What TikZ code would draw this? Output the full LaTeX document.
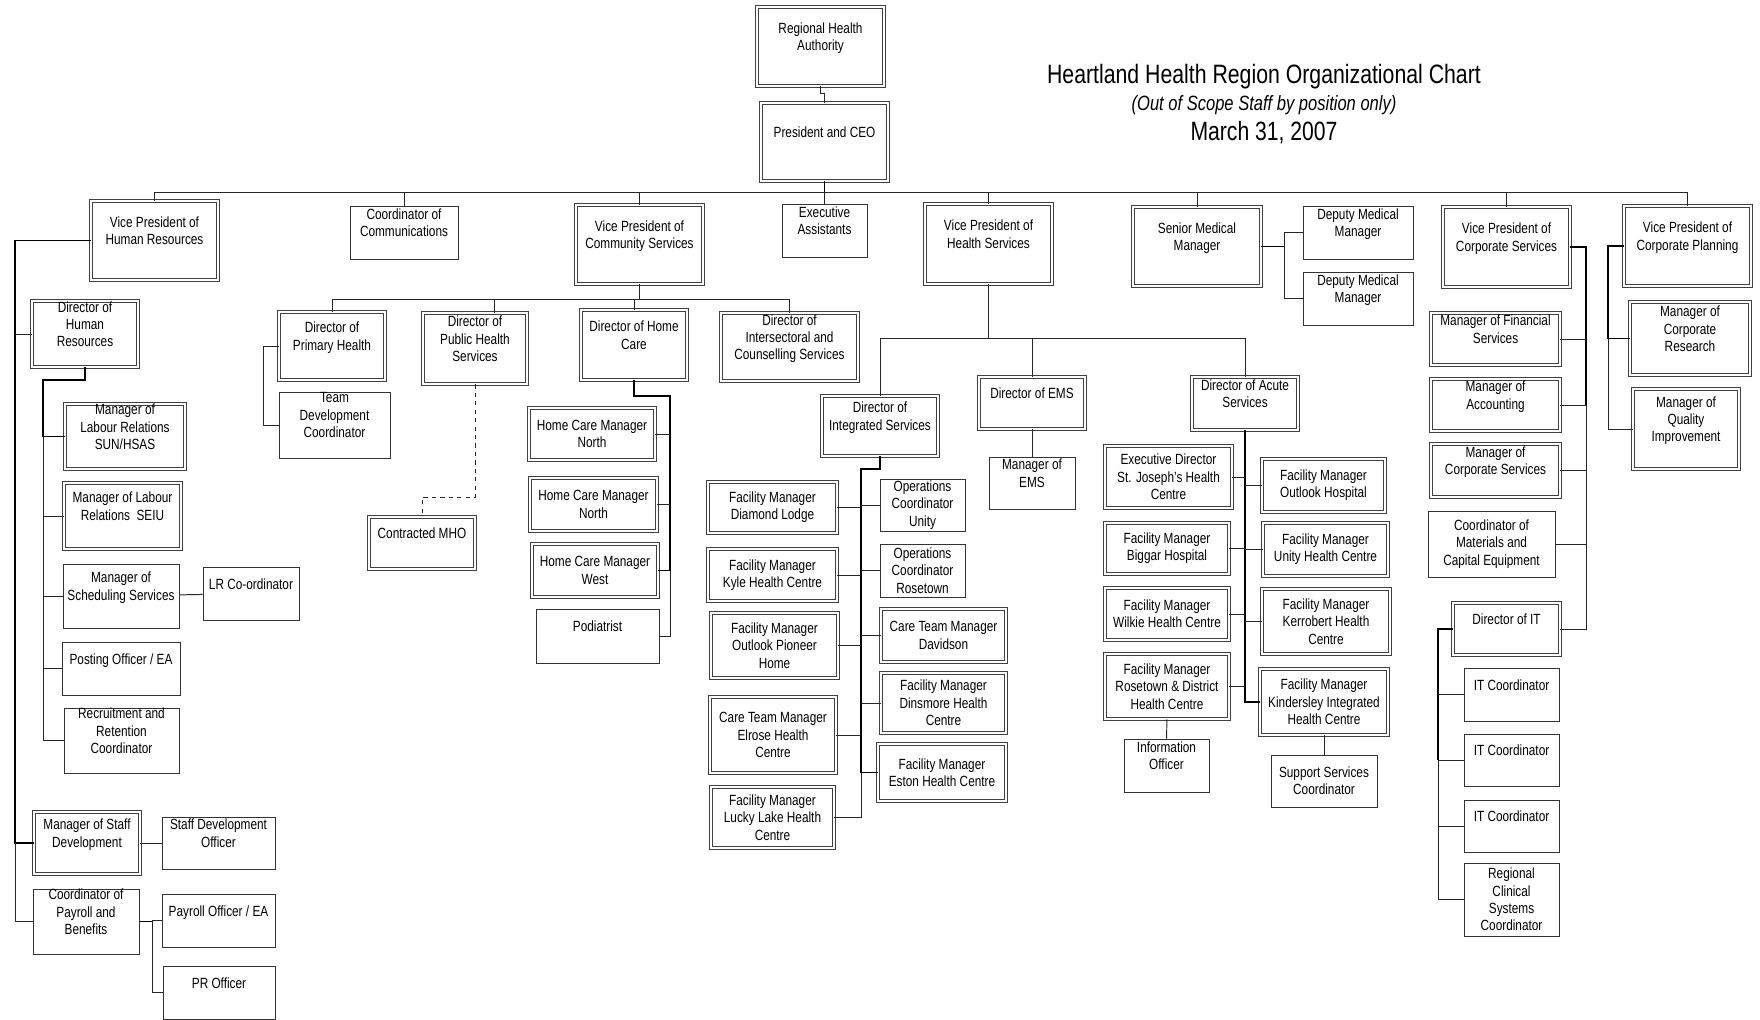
\documentclass[tikz,border=0pt]{standalone}
\usepackage{fontspec}
\setmainfont{Liberation Sans}[FakeStretch=0.8]

\tikzstyle{obox}=[draw=black!80, line width=0.6pt, rectangle, align=center, inner sep=0pt, font=\fontsize{10.5}{12.3}\selectfont]
\tikzstyle{dbox}=[obox, draw=black!75, line width=0.55pt, double=white, double distance=1.1pt]
\tikzstyle{tlift}=[text depth=14pt]
\tikzstyle{ed}=[draw=black!85, line width=0.7pt]
\tikzstyle{edb}=[draw=black, line width=1.4pt]
\tikzset{sz/.style 2 args={minimum width=#1cm, minimum height=#2cm}}

\begin{document}
\begin{tikzpicture}[x=0.025cm, y=-0.025cm]
  \fill[white] (0,0) rectangle (1760,1019);
  \useasboundingbox (0,0) rectangle (1760,1019);

  % title
  \node[font=\fontsize{18.9}{21}\selectfont] (title) at (1264,77) {Heartland Health Region Organizational Chart};
  \node[font=\itshape\fontsize{14.7}{16}\selectfont] (subtitle) at (1264,105) {(Out of Scope Staff by position only)};
  \node[font=\fontsize{18.8}{21}\selectfont] (date) at (1264,133) {March 31, 2007};

  % top level
  \node[dbox,tlift,sz={3.175}{1.975}] (rha) at (820.5,46.5) {Regional Health\\Authority};
  \node[dbox,tlift,sz={3.175}{1.95}] (ceo) at (824.5,142) {President and CEO};
  \node[dbox,tlift,sz={3.175}{1.975}] (vphr) at (154.5,240.5) {Vice President of\\Human Resources};
  \node[obox,tlift,sz={2.7}{1.325}] (comm) at (404,232.5) {Coordinator of\\Communications};
  \node[dbox,tlift,sz={3.175}{1.975}] (vpcom) at (639.5,244.5) {Vice President of\\Community Services};
  \node[obox,tlift,sz={2.125}{1.325}] (exa) at (824.5,230.5) {Executive\\Assistants};
  \node[dbox,tlift,sz={3.175}{2}] (vphs) at (988.5,244) {Vice President of\\Health Services};
  \node[dbox,tlift,sz={3.2}{1.975}] (smm) at (1197,246.5) {Senior Medical\\Manager};
  \node[obox,tlift,sz={2.75}{1.325}] (dmma) at (1358,232.5) {Deputy Medical\\Manager};
  \node[obox,tlift,sz={2.75}{1.325}] (dmmb) at (1358,298.5) {Deputy Medical\\Manager};
  \node[dbox,tlift,sz={3.175}{2}] (vpcs) at (1506.5,247) {Vice President of\\Corporate Services};
  \node[dbox,tlift,sz={3.175}{2}] (vpcp) at (1687.5,246) {Vice President of\\Corporate Planning};

  % human resources
  \node[dbox,tlift,sz={2.65}{1.65}] (dhr) at (85,334) {Director of\\Human\\Resources};
  \node[dbox,tlift,sz={3}{1.625}] (lrsun) at (125,436.5) {Manager of\\Labour Relations\\SUN/HSAS};
  \node[dbox,tlift,sz={2.925}{1.65}] (lrseiu) at (122.5,516) {Manager of Labour\\Relations\ \ SEIU};
  \node[obox,tlift,sz={2.9}{1.6}] (sched) at (121,596) {Manager of\\Scheduling Services};
  \node[obox,tlift,sz={2.4}{1.325}] (lrc) at (251,593.5) {LR Co-ordinator};
  \node[obox,tlift,sz={2.95}{1.325}] (post) at (121,668.5) {Posting Officer / EA};
  \node[obox,tlift,sz={2.875}{1.625}] (recr) at (121.5,740.5) {Recruitment and\\Retention\\Coordinator};
  \node[dbox,tlift,sz={2.65}{1.55}] (msd) at (87,843) {Manager of Staff\\Development};
  \node[obox,tlift,sz={2.825}{1.3}] (sdo) at (218.5,843) {Staff Development\\Officer};
  \node[obox,tlift,sz={2.65}{1.625}] (cpb) at (86,921.5) {Coordinator of\\Payroll and\\Benefits};
  \node[obox,tlift,sz={2.825}{1.325}] (pof) at (218.5,920.5) {Payroll Officer / EA};
  \node[obox,tlift,sz={2.8}{1.325}] (pro) at (219,992.5) {PR Officer};

  % community services
  \node[dbox,tlift,sz={2.65}{1.7}] (dph) at (332,346) {Director of\\Primary Health};
  \node[obox,tlift,sz={2.775}{1.65}] (tdc) at (334.5,425) {Team\\Development\\Coordinator};
  \node[dbox,tlift,sz={2.6}{1.775}] (dpu) at (475,348.5) {Director of\\Public Health\\Services};
  \node[dbox,tlift,sz={2.65}{1.3}] (mho) at (422,543) {Contracted MHO};
  \node[dbox,tlift,sz={2.65}{1.75}] (dhc) at (634,345) {Director of Home\\Care};
  \node[dbox,tlift,sz={3.425}{1.7}] (dic) at (789.5,347) {Director of\\Intersectoral and\\Counselling Services};
  \node[dbox,sz={3.15}{1.3}] (hcn1) at (592,434) {Home Care Manager\\North};
  \node[dbox,sz={3.175}{1.325}] (hcn2) at (593.5,504.5) {Home Care Manager\\North};
  \node[dbox,sz={3.15}{1.325}] (hcw) at (595,570.5) {Home Care Manager\\West};
  \node[obox,tlift,sz={3.075}{1.35}] (pod) at (597.5,636) {Podiatrist};

  % health services
  \node[dbox,tlift,sz={2.9}{1.5}] (dis) at (880,426) {Director of\\Integrated Services};
  \node[dbox,tlift,sz={2.65}{1.3}] (dems) at (1032,403) {Director of EMS};
  \node[obox,tlift,sz={2.15}{1.3}] (mems) at (1032,483) {Manager of\\EMS};
  \node[dbox,tlift,sz={2.65}{1.325}] (das) at (1245,403.5) {Director of Acute\\Services};

  \node[dbox,sz={3.225}{1.275}] (fmdl) at (772.5,507.5) {Facility Manager\\Diamond Lodge};
  \node[obox,sz={2.125}{1.3}] (ocu) at (922.5,505) {Operations\\Coordinator\\Unity};
  \node[dbox,sz={3.225}{1.3}] (fmky) at (772.5,575) {Facility Manager\\Kyle Health Centre};
  \node[obox,sz={2.125}{1.325}] (ocr) at (922.5,570.5) {Operations\\Coordinator\\Rosetown};
  \node[dbox,sz={3.175}{1.625}] (fmop) at (774.5,645.5) {Facility Manager\\Outlook Pioneer\\Home};
  \node[dbox,sz={3.125}{1.325}] (ctd) at (943.5,635.5) {Care Team Manager\\Davidson};
  \node[dbox,sz={3.15}{1.9}] (cte) at (773,735) {Care Team Manager\\Elrose Health\\Centre};
  \node[dbox,sz={3.125}{1.5}] (fmdn) at (943.5,703) {Facility Manager\\Dinsmore Health\\Centre};
  \node[dbox,sz={3.2}{1.425}] (fmes) at (942,772.5) {Facility Manager\\Eston Health Centre};
  \node[dbox,sz={3.075}{1.525}] (fmll) at (772.5,817.5) {Facility Manager\\Lucky Lake Health\\Centre};

  \node[dbox,sz={3.175}{1.55}] (edsj) at (1168.5,477) {Executive Director\\St. Joseph's Health\\Centre};
  \node[dbox,sz={3.075}{1.325}] (fmoh) at (1323.5,485.5) {Facility Manager\\Outlook Hospital};
  \node[dbox,sz={3.1}{1.275}] (fmbh) at (1167,548.5) {Facility Manager\\Biggar Hospital};
  \node[dbox,sz={3.125}{1.325}] (fmuh) at (1325.5,549.5) {Facility Manager\\Unity Health Centre};
  \node[dbox,sz={3.1}{1.3}] (fmwh) at (1167,614) {Facility Manager\\Wilkie Health Centre};
  \node[dbox,sz={3.2}{1.625}] (fmkh) at (1326,621.5) {Facility Manager\\Kerrobert Health\\Centre};
  \node[dbox,sz={3.1}{1.625}] (fmrd) at (1167,686.5) {Facility Manager\\Rosetown \& District\\Health Centre};
  \node[dbox,sz={3.2}{1.65}] (fmki) at (1324,702) {Facility Manager\\Kindersley Integrated\\Health Centre};
  \node[obox,tlift,sz={2.125}{1.325}] (info) at (1166.5,765.5) {Information\\Officer};
  \node[obox,sz={2.65}{1.3}] (ssc) at (1324,781) {Support Services\\Coordinator};

  % corporate services and planning
  \node[dbox,tlift,sz={3.225}{1.3}] (mfs) at (1495.5,339) {Manager of Financial\\Services};
  \node[dbox,tlift,sz={3.225}{1.3}] (mac) at (1495.5,405) {Manager of\\Accounting};
  \node[dbox,tlift,sz={3.225}{1.325}] (mcs) at (1495.5,470.5) {Manager of\\Corporate Services};
  \node[obox,sz={3.175}{1.65}] (mce) at (1491.5,544) {Coordinator of\\Materials and\\Capital Equipment};
  \node[dbox,tlift,sz={2.675}{1.3}] (dit) at (1506.5,629) {Director of IT};
  \node[obox,tlift,sz={2.375}{1.325}] (itc1) at (1511.5,694.5) {IT Coordinator};
  \node[obox,tlift,sz={2.375}{1.3}] (itc2) at (1511.5,760) {IT Coordinator};
  \node[obox,tlift,sz={2.375}{1.3}] (itc3) at (1511.5,826) {IT Coordinator};
  \node[obox,sz={2.375}{1.825}] (rcs) at (1511.5,899.5) {Regional\\Clinical\\Systems\\Coordinator};
  \node[dbox,tlift,sz={3}{1.825}] (mcr) at (1690,338.5) {Manager of\\Corporate\\Research};
  \node[dbox,tlift,sz={2.65}{2}] (mqi) at (1686,429) {Manager of\\Quality\\Improvement};

  % bus lines
  \coordinate (bus) at (0,192);
  \coordinate (cbus) at (0,299);
  \coordinate (hbus) at (0,338);
  \coordinate (hrx) at (15,0);
  \coordinate (hrs) at (43,0);
  \coordinate (payx) at (152,0);
  \coordinate (phx) at (263,0);
  \coordinate (hcx) at (670,0);
  \coordinate (isx) at (861,0);
  \coordinate (smx) at (1284,0);
  \coordinate (itx) at (1438,0);
  \coordinate (csx) at (1586,0);
  \coordinate (cpx) at (1608,0);

  \draw[ed] (rha.south) -- ++(0,7) -| (ceo.north);
  \draw[edb] (ceo.south) -- (bus -| ceo.south);
  \draw[ed] (bus -| vphr.north) -- (bus -| vpcp.north);
  \foreach \n in {vphr,comm,vpcom,exa,vphs,smm,vpcs,vpcp}
    \draw[ed] (bus -| \n.north) -- (\n.north);

  % HR
  \draw[edb] (vphr.west) -| (hrx |- msd.west) -- (msd.west);
  \draw[ed] (hrx |- msd.west) |- (cpb.west);
  \draw[ed] (dhr.west) -- (hrx |- dhr.west);
  \draw[edb] (dhr.south) -- ++(0,13) -| (hrs |- lrsun.west) -- (lrsun.west);
  \draw[ed] (hrs |- lrsun.west) |- (recr.west);
  \foreach \n in {lrseiu,sched,post}
    \draw[ed] (hrs |- \n.west) -- (\n.west);
  \path (sched) edge [ed] (lrc);
  \path (msd) edge [ed] (sdo);
  \draw[edb] (cpb.east) -- (payx |- cpb.east);
  \draw[ed] (pof.west) -| (payx |- pro.west) -- (pro.west);

  % community
  \draw[ed] (vpcom.south) -- (cbus -| vpcom.south);
  \draw[ed] (cbus -| dph.north) -- (cbus -| dic.north);
  \foreach \n in {dph,dhc,dic}
    \draw[ed] (cbus -| \n.north) -- (\n.north);
  \draw[ed] ([xshift=0.475cm]dpu.north) -- ++(0,-14);
  \draw[ed] (dph.west) -| (phx |- tdc.west) -- (tdc.west);
  \draw[ed, dashed] (dpu.south) -- ++(0,113) -| (mho.north);
  \draw[edb] (dhc.south) -- ++(0,16) -| (hcx |- hcw.east) -- (hcw.east);
  \draw[ed] (hcx |- hcw.east) |- (pod.east);
  \foreach \n in {hcn1,hcn2}
    \draw[ed] (\n.east) -- (hcx |- \n.east);

  % health
  \draw[ed] (vphs.south) -- (hbus -| vphs.south);
  \draw[ed] (hbus -| dis.north) -- (hbus -| das.north);
  \foreach \n in {dis,dems,das}
    \draw[ed] (hbus -| \n.north) -- (\n.north);
  \path (dems) edge [ed] (mems);
  \draw[edb] (dis.south) -- ++(0,13) -| (isx |- fmes.west) -- (fmes.west);
  \draw[ed] (isx |- fmes.west) |- (fmll.east);
  \foreach \n in {fmdl,fmky,fmop,cte}
    \draw[ed] (\n.east) -- (isx |- \n.east);
  \foreach \n in {ocu,ocr,ctd,fmdn}
    \draw[ed] (isx |- \n.west) -- (\n.west);
  \draw[edb] (das.south) |- (fmki.west);
  \foreach \n in {edsj,fmbh,fmwh,fmrd}
    \draw[ed] (\n.east) -- (das.south |- \n.east);
  \foreach \n in {fmoh,fmuh,fmkh}
    \draw[ed] (das.south |- \n.west) -- (\n.west);
  \path (fmrd) edge [ed] (info);
  \path (fmki) edge [ed] (ssc);

  % senior medical
  \draw[edb] (smm.east) -- (smx |- smm.east);
  \draw[ed] (dmma.west) -| (smx |- dmmb.west) -- (dmmb.west);

  % corporate
  \draw[edb] (vpcs.east) -| (csx |- mac.east);
  \draw[ed] (csx |- mac.east) |- (dit.east);
  \foreach \n in {mfs,mac,mcs,mce}
    \draw[ed] (\n.east) -- (csx |- \n.east);
  \draw[edb] (vpcp.west) -| (cpx |- mcr.west) -- (mcr.west);
  \draw[ed] (cpx |- mcr.west) |- (mqi.west);
  \draw[edb] (dit.west) -| (itx |- itc2.west);
  \draw[ed] (itx |- itc2.west) |- (rcs.west);
  \foreach \n in {itc1,itc2,itc3}
    \draw[ed] (itx |- \n.west) -- (\n.west);
\end{tikzpicture}
\end{document}
